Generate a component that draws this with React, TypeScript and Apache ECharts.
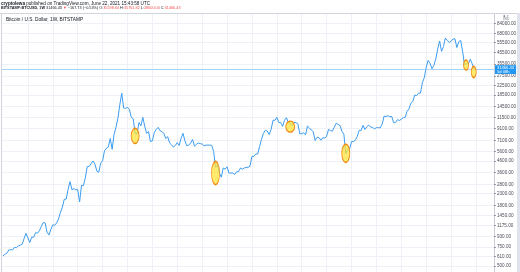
import React, { useEffect, useRef } from 'react';
import * as echarts from 'echarts';

// Weekly closes, BITSTAMP:BTCUSD, first week starting 2016-10-03
const weekStartISO = '2016-10-03';
const closes: number[] = [
  617, 640, 655, 700, 705, 702, 740, 735, 765, 775, 790, 890, 995,
  905, 820, 920, 915, 1010, 1000, 1050, 1150, 1250, 1240, 1020, 960, 1080,
  1190, 1180, 1240, 1350, 1550, 1730, 2040, 2050, 2520, 2960, 2500, 2560, 2490,
  2510, 1930, 2740, 2720, 3220, 4070, 4080, 4330, 4580, 4300, 3700, 3600, 4370,
  4590, 5680, 5990, 6140, 7360, 5860, 8040, 9310, 11250, 15000, 19100, 14000, 13880,
  14200, 13600, 11500, 11150, 8200, 8100, 10300, 9600, 11500, 9550, 8200, 8500, 6900,
  7000, 8350, 8900, 9300, 8700, 8500, 8200, 7350, 7650, 6700, 6450, 6150, 6350,
  6750, 6350, 7400, 8200, 7000, 6300, 6400, 6700, 7200, 6250, 6500, 6700, 6600,
  6550, 6300, 6400, 6400, 6400, 6350, 5600, 4000, 4200, 3550, 3250, 3950, 3850,
  4050, 3550, 3550, 3550, 3450, 3650, 3650, 3950, 3850, 3950, 4000, 4000, 4100,
  5050, 5050, 5300, 5300, 6200, 7250, 8200, 8750, 8600, 8000, 8900, 10800, 10800,
  11500, 10300, 10300, 9500, 10800, 11400, 10300, 10150, 9600, 10300, 10300, 10000, 8100,
  8150, 8300, 7950, 9550, 9200, 8800, 8500, 7050, 7550, 7500, 7100, 7500, 7400,
  7750, 8900, 8700, 8600, 9350, 10150, 9900, 9650, 8550, 8050, 5350, 5800, 5900,
  6900, 6900, 7100, 7700, 8750, 8700, 9700, 8900, 9450, 9750, 9350, 9300, 9000,
  9250, 9250, 9200, 9950, 11800, 11700, 11900, 11650, 11700, 10250, 10300, 10950, 10750,
  11050, 11400, 11500, 13050, 13750, 15500, 16050, 18400, 18200, 19150, 19150, 23850, 26500,
  33000, 38200, 35800, 32100, 34300, 39300, 48600, 57500, 46200, 51000, 61200, 58100, 55800,
  57100, 60000, 60200, 50100, 56600, 58300, 46400, 34700, 35600, 35500, 39100, 35600, 31466.43,
];

const priceTicks: number[] = [
  500, 610, 750, 930, 1175, 1450, 1800, 2300, 2800, 3600, 4600, 5600, 7100,
  9100, 11500, 14500, 18500, 22500, 27500, 35500, 45500, 55500, 68000, 84000,
];
const lastPrice = 31466.43;
const countdown = '5d 08h';

// highlighted spots (week index, price)
const highlightWeeks: number[] = [69, 111, 150, 179, 241.8, 245.8];
const highlightPrices: number[] = [7760, 3550, 9450, 5380, 34600, 29900];

const headerLine1 = 'published on TradingView.com, June 22, 2021 15:43:58 UTC';
const author = 'cryptolewa';
const symbolName = 'BITSTAMP:BTCUSD, 1W';
const ohlc = { o: '35598.64', h: '35761.82', l: '28600.00', c: '31466.43' };
const change = '\u2212167.73 (\u22120.53%)';
const title = 'Bitcoin / U.S. Dollar, 1W, BITSTAMP';

const WEEK = 7 * 86400000;
const FONT = '"Liberation Sans", Arial, sans-serif';

export default function App() {
  const ref = useRef<HTMLDivElement>(null);
  useEffect(() => {
    if (!ref.current) return;
    const chart = echarts.init(ref.current, undefined, { renderer: 'svg' });
    const t0 = Date.parse(weekStartISO + 'T00:00:00Z');
    const data = closes.map((v, i) => [t0 + i * WEEK, v]);
    const quarterTicks = Array.from({ length: 20 }, (_, k) => t0 + 13 * (k + 1) * WEEK);
    const sizes: number[][] = [[8, 15], [8, 23], [9, 11], [8, 18], [5, 10], [5, 11]];

    chart.setOption({
      animation: false,
      textStyle: { fontFamily: FONT },
      grid: { left: 2, right: 26, top: 14, bottom: 0, containLabel: false },
      xAxis: {
        type: 'time',
        min: t0 - 0.52 * WEEK,
        max: t0 + 256.4 * WEEK,
        axisLine: { show: false },
        axisLabel: { show: false },
        axisTick: { show: false, customValues: quarterTicks },
        splitLine: { show: true, lineStyle: { color: '#eef1f7', width: 1 } },
      },
      yAxis: {
        type: 'log',
        logBase: 10,
        position: 'right',
        min: 440.5,
        max: 101600,
        axisLine: { show: true, lineStyle: { color: '#c9ccd4', width: 1 } },
        axisTick: { show: true, length: 2, inside: false, customValues: priceTicks, lineStyle: { color: '#9598a1' } },
        axisLabel: {
          customValues: priceTicks,
          fontSize: 4.6,
          color: '#4a4d57',
          margin: 3,
          fontFamily: FONT,
          formatter: (v: number) => Number(v).toFixed(2),
        },
        splitLine: { show: true, lineStyle: { color: '#eef1f7', width: 1 } },
      },
      series: [
        {
          type: 'line',
          data,
          showSymbol: false,
          symbol: 'none',
          lineStyle: { color: '#3d9cf0', width: 1 },
          z: 3,
          markLine: {
            silent: true,
            symbol: 'none',
            lineStyle: { color: '#8ec6f7', type: 'solid', width: 0.8 },
            label: {
              show: true,
              position: 'end',
              distance: 1,
              formatter: lastPrice.toFixed(2) + '\n' + countdown,
              backgroundColor: '#2196f3',
              color: '#ffffff',
              fontSize: 4.1,
              lineHeight: 4.1,
              padding: [0.3, 2, 0.3, 2],
              fontFamily: FONT,
            },
            data: [{ yAxis: lastPrice }],
          },
          markPoint: {
            silent: true,
            symbol: 'circle',
            itemStyle: { color: 'rgba(255,226,50,0.72)', borderColor: '#f08a16', borderWidth: 1.1 },
            label: { show: false },
            data: highlightWeeks.map((w, i) => ({
              coord: [t0 + w * WEEK, highlightPrices[i]],
              symbolSize: sizes[i],
            })),
          },
        },
      ],
      graphic: [
        { type: 'rect', shape: { x: 0, y: 13, width: 520, height: 1 }, style: { fill: '#d1d4dc' }, z: 10 },
        { type: 'rect', shape: { x: 1, y: 13, width: 1, height: 259 }, style: { fill: '#d1d4dc' }, z: 10 },
        { type: 'rect', shape: { x: 517, y: 13, width: 3, height: 259 }, style: { fill: '#e0e3eb' }, z: 10 },
        {
          type: 'text', x: 1, y: 0.5, z: 10,
          style: {
            text: '{b|' + author + '} ' + headerLine1,
            fontSize: 4.6, fill: '#131722', fontFamily: FONT,
            rich: { b: { fontWeight: 'bold', fontSize: 4.6, fontFamily: FONT, fill: '#131722' } },
          },
        },
        {
          type: 'text', x: 1, y: 6, z: 10,
          style: {
            text: '{b|' + symbolName + '} ' + ohlc.c + ' {r|\u25BC} ' + change + ' O:{r|' + ohlc.o + '} H:{r|' + ohlc.h + '} L:{r|' + ohlc.l + '} C:{r|' + ohlc.c + '}',
            fontSize: 3.8, fill: '#131722', fontFamily: FONT,
            rich: {
              b: { fontWeight: 'bold', fontSize: 3.8, fontFamily: FONT, fill: '#131722' },
              r: { fontSize: 3.8, fontFamily: FONT, fill: '#ef5350' },
            },
          },
        },
        {
          type: 'text', x: 6, y: 17, z: 10,
          style: { text: title, fontSize: 4.8, fill: '#131722', fontFamily: FONT },
        },
        {
          type: 'text', x: 506, y: 13.8, z: 10,
          style: { text: '\u25C9 \u25BE\nUSD', fontSize: 3.2, lineHeight: 3.3, fill: '#787b86', fontFamily: FONT, align: 'center' },
        },
      ],
    });
    return () => chart.dispose();
  }, []);
  return <div ref={ref} style={{ position: 'fixed', left: 0, top: 0, width: 520, height: 272 }} />;
}
